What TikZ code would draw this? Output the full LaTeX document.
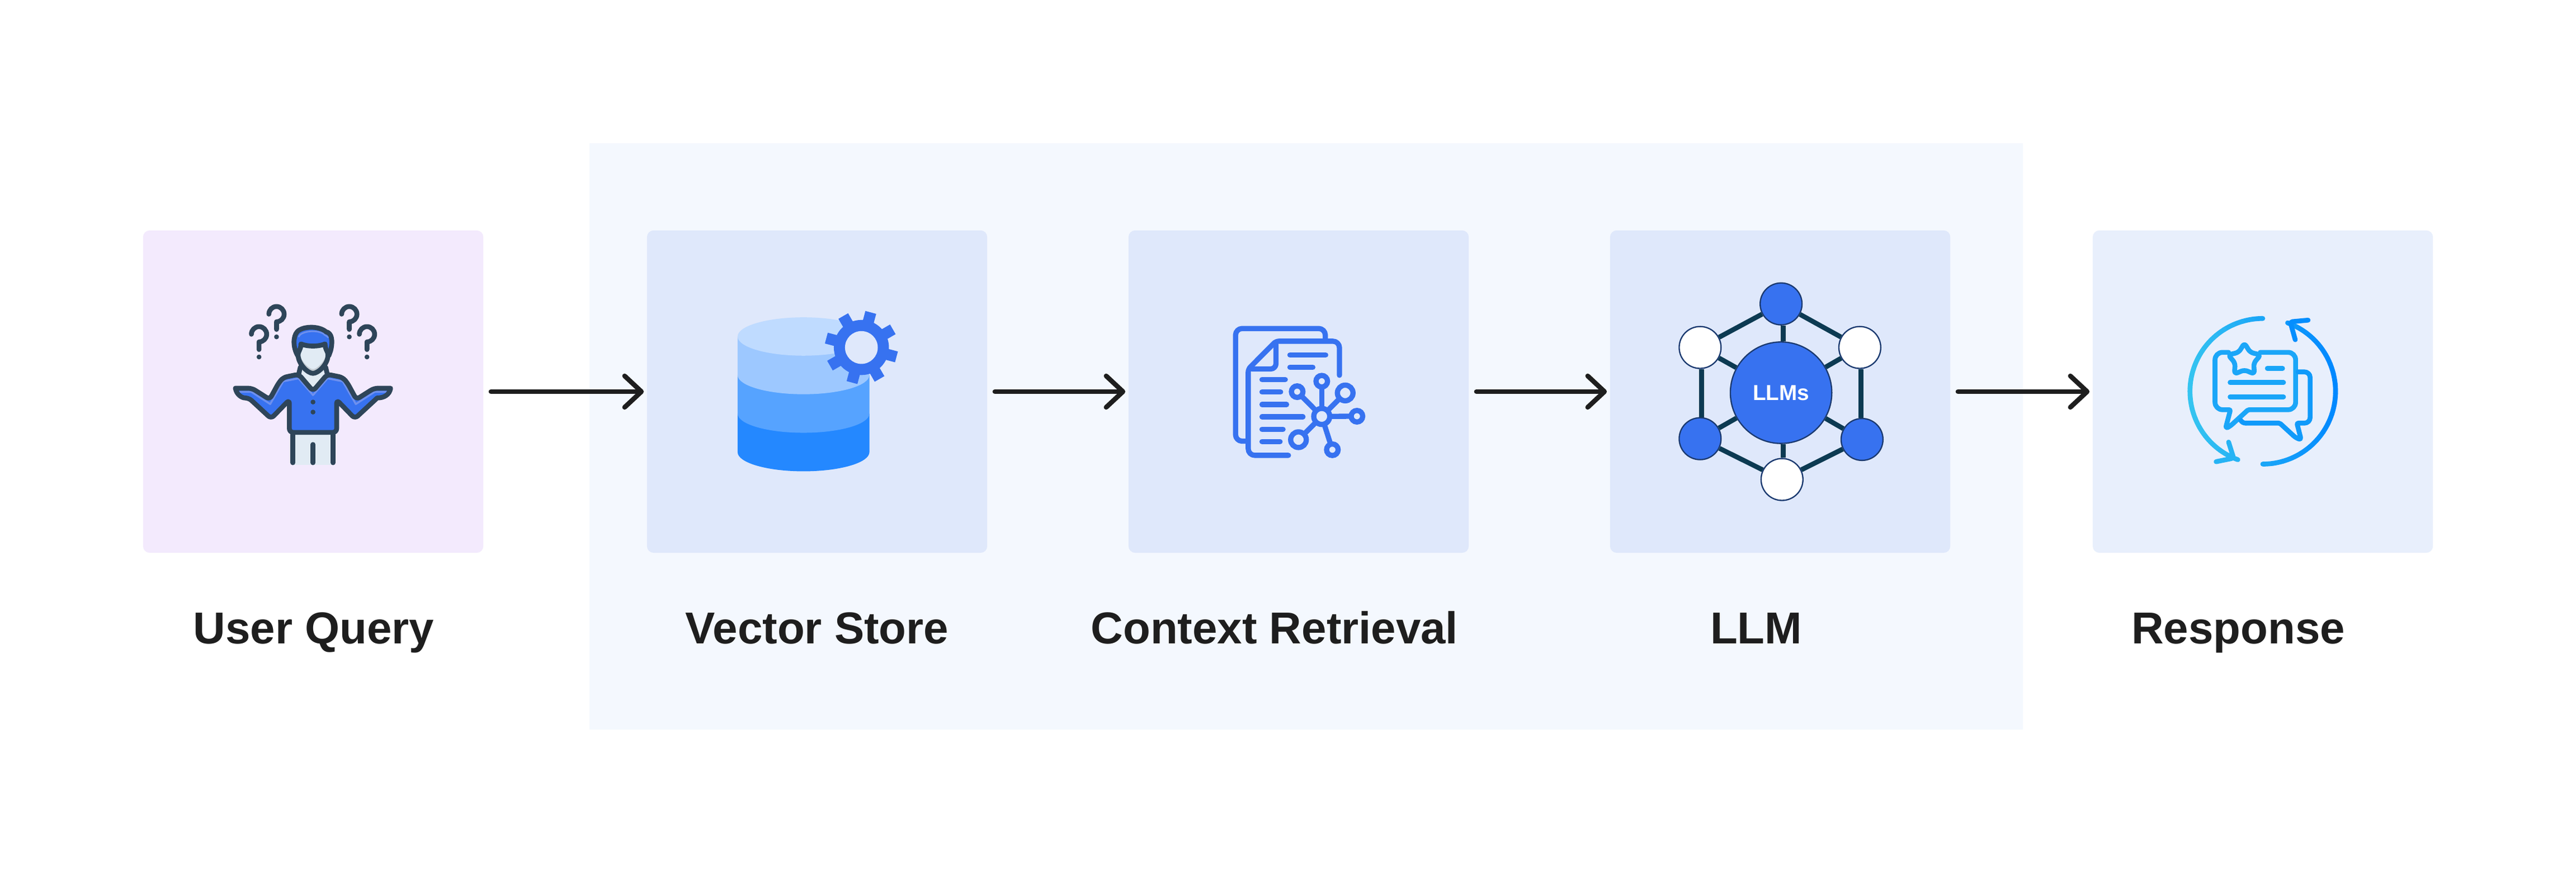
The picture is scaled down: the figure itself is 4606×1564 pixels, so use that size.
\documentclass[tikz,border=0pt]{standalone}
\usepackage{fontspec}
\setmainfont{Liberation Sans}
\usetikzlibrary{calc,arrows.meta}
\definecolor{panelblue}{HTML}{F4F8FE}
\definecolor{queryfill}{HTML}{F3EAFD}
\definecolor{stepfill}{HTML}{DFE8FB}
\definecolor{replyfill}{HTML}{E8EFFC}
\definecolor{inkblack}{HTML}{1E1E1E}
\definecolor{iconblue}{HTML}{3772F0}
\definecolor{iconglow}{HTML}{6E90EE}
\definecolor{iconslate}{HTML}{2E4559}
\definecolor{iconskin}{HTML}{E1EBF4}
\definecolor{iconshade}{HTML}{C5CCD3}
\definecolor{edgenavy}{HTML}{0C3A52}
\definecolor{ringnavy}{HTML}{1B3A70}
\definecolor{gradleft}{HTML}{35C4F0}
\definecolor{gradright}{HTML}{0088FF}
\def\zu{0.0033333cm}
\def\shirtpath{(213,643) -- (302,643) -- (397,703) -- (445,615) -- (470,585) -- (553,568) -- (630,658) -- (707,568) -- (790,585) -- (815,615) -- (863,703) -- (958,643) {[sharp corners] -- (1047,643) .. controls (1040,680) and (1010,695) .. (975,695)} -- (855,806) -- (757,705) -- (757,880) -- (503,880) -- (503,705) -- (405,806) -- (285,695) {[sharp corners] .. controls (250,695) and (220,680) .. (213,643)}}
\begin{document}
\begin{tikzpicture}[x=0.01cm,y=0.01cm,
 crop/.style 2 args={shift={(#1,1564-#2)},x=\zu,y=-\zu},
 box/.style={rectangle,rounded corners=0.12cm,minimum width=6.08cm,minimum height=5.76cm,inner sep=0pt},
 flow/.style={line width=0.085cm,color=inkblack,line cap=round,shorten <=0.13cm,shorten >=0.05cm,-{Straight Barb[length=0.3cm,width=0.56cm,round]}},
 lbl/.style={anchor=base,text=inkblack,font=\fontsize{22.7pt}{27pt}\selectfont\bfseries},
 man/.style={draw=iconslate,line width=26*\zu,line cap=round,line join=round},
 docl/.style={draw=iconblue,line width=28*\zu,line cap=round,line join=round},
 ring/.style={circle,draw=iconblue,line width=28*\zu,inner sep=0pt},
 dot/.style={circle,draw=ringnavy,line width=7*\zu,minimum size=225*\zu,inner sep=0pt},
 lnk/.style={draw=edgenavy,line width=26*\zu},
 rsp/.style={line width=26*\zu,line cap=round,line join=round}]
\useasboundingbox (0,0) rectangle (4606,1564);
\fill[white] (0,0) rectangle (4606,1564);
\node[rectangle,fill=panelblue,minimum width=25.61cm,minimum height=10.48cm,inner sep=0pt] (pipeline) at (2335.5,784) {};
\node[box,fill=queryfill] (query) at (560,864) {};
\node[box,fill=stepfill] (store) at (1461,864) {};
\node[box,fill=stepfill] (retrieval) at (2322,864) {};
\node[box,fill=stepfill] (llm) at (3183,864) {};
\node[box,fill=replyfill] (response) at (4046,864) {};
\foreach \a/\b in {query/store,store/retrieval,retrieval/llm,llm/response}{\draw[flow] (\a) -- (\b);}
\node[lbl] (querytxt) at (561,413) {User Query};
\node[lbl] (storetxt) at (1461,413) {Vector Store};
\node[lbl] (retrievaltxt) at (2279,413) {Context Retrieval};
\node[lbl] (llmtxt) at (3140,413) {LLM};
\node[lbl] (responsetxt) at (4002,413) {Response};
% person
\begin{scope}[crop={350}{480}]
\fill[iconskin] (522,885) rectangle (738,1055);
\fill[iconskin] (570,545) -- (690,545) -- (690,590) -- (630,650) -- (570,590) -- cycle;
\fill[iconblue,rounded corners=20*\zu] \shirtpath;
\draw[iconglow,line width=10*\zu,line join=round] (235,662) -- (298,662) -- (400,728) -- (470,606) -- (552,590) -- (630,680) -- (708,590) -- (790,606) -- (860,728) -- (962,662) -- (1025,662);
\draw[man,rounded corners=20*\zu] \shirtpath;
\foreach \px in {522,738}{\draw[man] (\px,893) -- (\px,1043);}
\draw[man] (630,945) -- (630,1043);
\foreach \py in {717,771}{\fill[iconslate] (630,\py) circle[radius=13];}
\draw[man] (562,530) -- (553,568);
\draw[man] (698,530) -- (707,568);
\filldraw[man,fill=iconblue] (548,468) .. controls (522,425) and (522,365) .. (545,340) .. controls (570,310) and (660,305) .. (700,340) .. controls (730,345) and (738,385) .. (725,440) -- (715,468);
\draw[iconglow,line width=8*\zu] (552,368) .. controls (565,335) and (650,328) .. (685,350) .. controls (695,362) and (705,360) .. (712,372);
\fill[iconshade] (565,405) .. controls (600,420) and (660,420) .. (695,405) .. controls (695,440) and (710,440) .. (710,465) .. controls (712,510) and (660,563) .. (630,563) .. controls (600,563) and (550,510) .. (550,465) .. controls (550,440) and (565,440) .. (565,405) -- cycle;
\fill[iconskin] (565,405) .. controls (600,420) and (660,420) .. (695,405) .. controls (695,440) and (700,440) .. (697,470) .. controls (690,500) and (650,540) .. (630,540) .. controls (610,540) and (570,500) .. (563,470) .. controls (560,440) and (565,440) .. (565,405) -- cycle;
\draw[man] (550,465) .. controls (550,440) and (565,440) .. (565,405) .. controls (600,420) and (660,420) .. (695,405) .. controls (695,440) and (710,440) .. (710,465) .. controls (712,510) and (660,563) .. (630,563) .. controls (600,563) and (550,510) .. (550,465);
\foreach \px/\py in {340/353,434/245,825/245,920/353}{
\draw[man] (\px-41,\py) arc[start angle=180,end angle=450,radius=41] -- (\px,\py+82);
\fill[iconslate] (\px,\py+122) circle[radius=13];}
\end{scope}
% database
\begin{scope}[crop={1250}{500}]
\foreach \cy/\tone in {926/2488FF,719/56A3FF,512/9DC8FF}{
\definecolor{layertone}{HTML}{\tone}
\fill[layertone] (207,\cy-207) -- (207,\cy) arc[start angle=180,end angle=0,x radius=354,y radius=103] -- (915,\cy-207) -- cycle;}
\definecolor{layertone}{HTML}{BFDBFF}
\fill[layertone] (561,305) ellipse[x radius=354,y radius=103];
\fill[iconblue] (872,364) circle[radius=148];
\fill[stepfill] (872,364) circle[radius=88];
\foreach \a in {30,75,...,345}{\fill[iconblue,shift={(872,364)},rotate=\a] (140,-30) rectangle (195,30);}
\end{scope}
% documents
\begin{scope}[crop={2150}{540}]
\draw[docl,rounded corners=35*\zu] (660,195) -- (660,142) -- (178,142) -- (178,747) -- (232,747);
\draw[docl,rounded corners=35*\zu] (736,393) -- (736,210) {[rounded corners=16*\zu] -- (395,210) -- (246,360)} -- (246,823) -- (462,823);
\draw[docl,rounded corners=28*\zu] (395,228) -- (395,359) -- (265,359);
\foreach \x/\y/\xx in {470/284/662,470/350/593,320/416/445,320/483/420,320/550/452,320/616/540,320/683/433,320/749/417}{\draw[docl] (\x,\y) -- (\xx,\y);}
\node[ring,minimum size=86*\zu] (dhub) at (641,614) {};
\foreach \i/\px/\py/\sz in {1/641/425/62,2/509/481/62,3/767/488/84,4/830/613/62,5/516/739/84,6/698/793/62}{
\node[ring,minimum size=\sz*\zu] (d\i) at (\px,\py) {};
\draw[docl,line cap=butt,shorten <=-8*\zu,shorten >=-8*\zu] (dhub) -- (d\i);}
\end{scope}
% llm network
\begin{scope}[crop={2950}{480}]
\node[dot,fill=iconblue,minimum size=545*\zu,text=white,font=\fontsize{11pt}{13pt}\selectfont\bfseries] (core) at (705,667) {LLMs};
\foreach \i/\px/\py/\tone in {0/705/190/iconblue,1/1128/424/white,2/1140/918/iconblue,3/710/1133/white,4/270/914/iconblue,5/270/424/white}{
\node[dot,fill=\tone] (l\i) at (\px,\py) {};}
\foreach \a/\b in {l0/l1,l2/l3,l3/l4,l5/l0,core/l1,core/l2,core/l4,core/l5}{\draw[lnk] (\a) -- (\b);}
\draw[lnk] ($(l1.south)+(7,0)$) -- ($(l2.north)+(-5,0)$);
\draw[lnk] ($(l5.south)+(7,0)$) -- ($(l4.north)+(7,0)$);
\draw[lnk] ($(core.north)+(11,0)$) -- ($(l0.south)+(11,0)$);
\draw[lnk] ($(core.south)+(11,0)$) -- ($(l3.north)+(6,0)$);
\end{scope}
% response
\begin{scope}[crop={3860}{540}]
\foreach \a in {270,262,...,118}{
\pgfmathsetmacro\mixp{100-49.93*(cos(\a)+1)}
\draw[rsp,color=gradleft!\mixp!gradright] (558.5,479)++(\a:391) arc[start angle=\a,end angle=\a-8,radius=391];}
\foreach \a in {90,82,...,-62}{
\pgfmathsetmacro\mixp{100-49.93*(cos(\a)+1)}
\draw[rsp,color=gradleft!\mixp!gradright] (558.5,479)++(\a:391) arc[start angle=\a,end angle=\a-8,radius=391];}
\draw[rsp,color=gradleft!72!gradright,rounded corners=12*\zu] (375,752) -- (402,838) -- (308,857);
\draw[rsp,color=gradleft!10!gradright,rounded corners=12*\zu] (802,97) -- (706,106) -- (733,202);
\draw[rsp,color=gradleft!50!gradright,rounded corners=40*\zu] (375,270) -- (302,270) -- (302,578) {[rounded corners=8*\zu] -- (385,578)} {[rounded corners=16*\zu] -- (358,680) -- (385,665)} {[rounded corners=6*\zu] -- (480,578)} -- (735,578) -- (735,270) -- (545,270);
\draw[rsp,color=gradleft!50!gradright,rounded corners=18*\zu] (460,220) -- (490.6,270) -- (547.5,283.6) -- (509.5,328) -- (514,386.4) -- (460,364) -- (406,386.4) -- (410.5,328) -- (372.5,283.6) -- (429.4,270) -- cycle;
\foreach \x/\y/\xx in {583/356/665,383/432/670,383/509/670}{\draw[rsp,color=gradleft!48!gradright] (\x,\y) -- (\xx,\y);}
\draw[rsp,color=gradleft!30!gradright,rounded corners=30*\zu] (748,375) -- (813,375) -- (813,650) {[rounded corners=8*\zu] -- (742,650)} {[rounded corners=14*\zu] -- (765,740) -- (735,728)} {[rounded corners=6*\zu] -- (650,650)} -- (468,650);
\draw[rsp,color=gradleft!30!gradright] (468,650) .. controls (455,650) and (447,645) .. (440,635);
\end{scope}
\end{tikzpicture}
\end{document}
